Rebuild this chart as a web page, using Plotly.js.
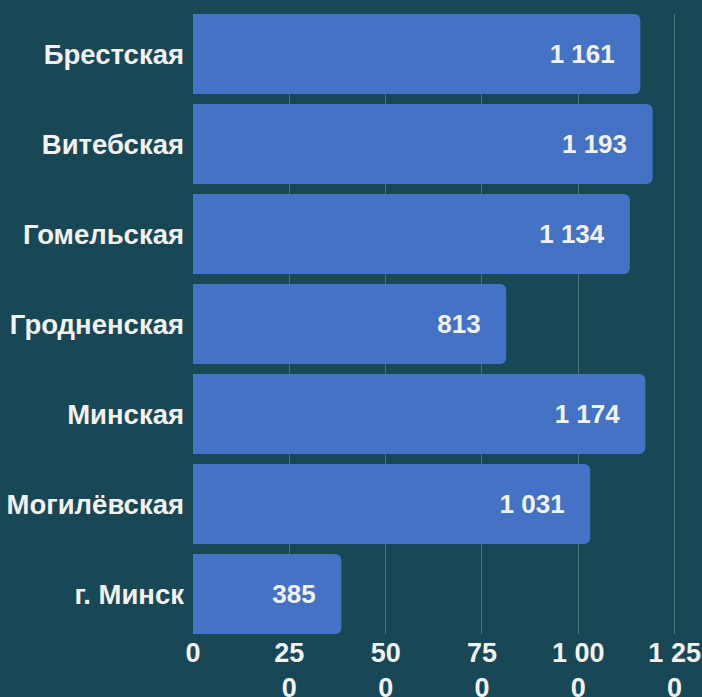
<!DOCTYPE html>
<html><head><meta charset="utf-8">
<script src="https://cdn.plot.ly/plotly-3.0.1.min.js"></script>
<style>html,body{margin:0;padding:0;background:#184756;}</style>
</head><body>
<div id="chart" style="width:702px;height:697px;"></div>
<script>
const regions = ["Брестская","Витебская","Гомельская","Гродненская","Минская","Могилёвская","г. Минск"];
const values = [1161, 1193, 1134, 813, 1174, 1031, 385];
const tickValues = [0, 250, 500, 750, 1000, 1250];
const tickLabels = ["0", "25<br>0", "50<br>0", "75<br>0", "1 00<br>0", "1 25<br>0"];

const pad = "\u00a0\u00a0\u2009";
const trace = {
  type: "bar",
  orientation: "h",
  y: regions,
  x: values,
  marker: {color: "#4472c4", cornerradius: 6},
  texttemplate: "%{x:,}" + pad,
  textposition: "inside",
  insidetextanchor: "end",
  textfont: {family: "Liberation Sans, Arial, sans-serif", size: 26, color: "#f2f2f2", weight: "bold"},
  hoverinfo: "none",
  cliponaxis: false
};

const layout = {
  width: 702, height: 697,
  paper_bgcolor: "#184756",
  plot_bgcolor: "#184756",
  separators: ". ",
  margin: {l: 193, r: 0, t: 14, b: 63},
  bargap: 0.111,
  showlegend: false,
  font: {family: "Liberation Sans, Arial, sans-serif", color: "#f2f2f2", size: 26, weight: "bold"},
  xaxis: {
    range: [0, 1321],
    tickvals: tickValues,
    ticktext: tickLabels,
    showgrid: true,
    gridcolor: "#4f727c",
    gridwidth: 1,
    zeroline: false,
    showline: false,
    ticks: "",
    tickfont: {size: 27, color: "#f2f2f2", weight: "bold"},
    fixedrange: true
  },
  yaxis: {
    type: "category",
    categoryorder: "array",
    categoryarray: regions,
    range: [6.444, -0.444],
    showgrid: false,
    zeroline: false,
    ticks: "",
    ticklabelstandoff: 8,
    tickfont: {size: 27.5, color: "#f2f2f2", weight: "bold"},
    fixedrange: true
  }
};

Plotly.newPlot("chart", [trace], layout, {displayModeBar: false, staticPlot: true});
</script>
</body></html>
